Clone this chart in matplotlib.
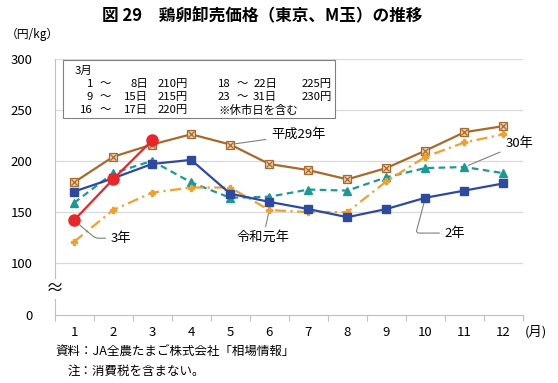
import matplotlib
matplotlib.use("Agg")
import matplotlib.pyplot as plt
from matplotlib.patches import Rectangle

plt.rcParams['font.family'] = ['Noto Sans CJK JP', 'DejaVu Sans']

months = list(range(1, 13))
h29 = [179, 204, 216, 226, 216, 197, 191, 182, 193, 210, 228, 234]
h30 = [159, 188, 200, 179, 164, 165, 172, 171, 184, 193, 194, 188]
r1 = [121, 152, 169, 174, 174, 152, 150, 150, 180, 204, 218, 226]
r2 = [170, 183, 197, 201, 168, 160, 153, 145, 153, 164, 171, 178]
r3 = [142, 182, 220]

march_from = ["1", "9", "16", "18", "23"]
march_to = ["8", "15", "17", "22", "31"]
march_price = [210, 215, 220, 225, 230]

W, H = 558, 383
Y0 = 49.5  # where the broken axis shows "0"

fig = plt.figure(figsize=(W / 100, H / 100), dpi=100)
ax = fig.add_axes([54.5 / W, 1 - 315 / H, (523 - 54.5) / W, (315 - 58.5) / H])


def px(x, y):
    return x / W, 1 - y / H


grid_c = "#d9d9d9"
for v in [100, 150, 200, 250, 300]:
    ax.axhline(v, color=grid_c, lw=0.9, zorder=0)

brown = "#a86a2c"
teal = "#1a9a96"
orange = "#f2a02c"
blue = "#2e4aa0"
red = "#e8262a"

ax.plot(months, h29, color=brown, lw=1.6, marker="s", ms=6,
        mfc="#e9d3b0", mec=brown, mew=0.9, zorder=3)
ax.plot(months, h29, ls="none", marker="x", ms=4.5, mec=brown, mew=0.9, zorder=4)
ax.plot(months, h30, color=teal, lw=1.6, ls=(0, (3, 2)), marker="^", ms=6,
        mfc=teal, mec=teal, zorder=3)
ax.plot(months, r1, color=orange, lw=1.6, ls=(0, (5, 2, 1, 2)), marker="P", ms=5,
        mfc=orange, mec=orange, zorder=3)
ax.plot(months, r2, color=blue, lw=1.6, marker="s", ms=6, mfc=blue, mec=blue, zorder=4)
ax.plot(months[:3], r3, color=red, lw=1.6, marker="o", ms=8, mfc=red, mec=red, zorder=5)

ax.set_xlim(0.5, 12.5)
ax.set_ylim(Y0, 300)

for s in ["top", "right"]:
    ax.spines[s].set_visible(False)
ax.spines["left"].set_color("#bfbfbf")
ax.spines["bottom"].set_color("#bfbfbf")

ax.set_yticks([Y0, 100, 150, 200, 250, 300])
ax.set_yticklabels(["0", "100", "150", "200", "250", "300"])
ax.tick_params(axis="y", length=0, pad=16, labelsize=9.5)

ax.set_xticks([m + 0.5 for m in range(0, 13)])
ax.set_xticklabels([])
ax.tick_params(axis="x", which="major", length=4, color="#bfbfbf", direction="out")
ax.set_xticks(months, minor=True)
ax.set_xticklabels([str(m) for m in months], minor=True)
ax.tick_params(axis="x", which="minor", length=0, pad=8, labelsize=9.5)

ax.text(0.5, 75, "≈", ha="center", va="center", fontsize=13,
        bbox=dict(fc="white", ec="none", pad=0.5), zorder=6, clip_on=False)
fig.text(*px(525, 332), "(月)", ha="left", va="center", fontsize=9.5)

fig.text(*px(262, 15), "図 29　鶏卵卸売価格（東京、M玉）の推移",
         ha="center", va="center", fontsize=12, fontweight="bold")
fig.text(*px(6, 34), "（円/kg）", ha="left", va="center", fontsize=8.5)

fig.text(*px(55, 351), "資料：JA全農たまご株式会社「相場情報」", ha="left", va="center", fontsize=9)
fig.text(*px(68, 371), "注：消費税を含まない。", ha="left", va="center", fontsize=9)

# March box
bx0, by0, bx1, by1 = 63, 60, 335, 118
fig.add_artist(Rectangle(px(bx0, by1), (bx1 - bx0) / W, (by1 - by0) / H,
                         transform=fig.transFigure, fc="white", ec="#808080", lw=0.8, zorder=5))
fs = 8.2
fig.text(*px(75, 71), "3月", ha="left", va="center", fontsize=fs, zorder=6)
rows = [84, 97, 110, 84, 97]
for i in range(5):
    y = rows[i]
    right = i >= 3
    if not right:
        fig.text(*px(93, y), march_from[i], ha="right", va="center", fontsize=fs, zorder=6)
    else:
        fig.text(*px(218, y), march_from[i], ha="left", va="center", fontsize=fs, zorder=6)
    fig.text(*px(242 if right else 105, y), "～", ha="center", va="center", fontsize=fs, zorder=6)
    fig.text(*px(277 if right else 148, y), march_to[i] + "日", ha="right", va="center",
             fontsize=fs, zorder=6)
    fig.text(*px(302 if right else 158, y), f"{march_price[i]}円", ha="left", va="center",
             fontsize=fs, zorder=6)
fig.text(*px(218, 110), "※休市日を含む", ha="left", va="center", fontsize=fs, zorder=6)

# series labels with leader lines
lc = "#808080"
lfs = 9.5
ax.annotate("平成29年", xy=(5, h29[4]), xytext=(6.05, 225.5), ha="left", va="center",
            fontsize=lfs, arrowprops=dict(arrowstyle="-", color=lc, lw=0.8, shrinkA=2, shrinkB=3))
ax.annotate("30年", xy=(11, h30[10]), xytext=(12.05, 216.5), ha="left", va="center",
            fontsize=lfs, arrowprops=dict(arrowstyle="-", color=lc, lw=0.8, shrinkA=2, shrinkB=3),
            annotation_clip=False)
ax.annotate("令和元年", xy=(6, r1[5]), xytext=(5.85, 125.5), ha="center", va="center",
            fontsize=lfs, arrowprops=dict(arrowstyle="-", color=lc, lw=0.8, shrinkA=1, shrinkB=3))
ax.annotate("3年", xy=(1, r3[0]), xytext=(1.95, 124.5), ha="left", va="center",
            fontsize=lfs, arrowprops=dict(arrowstyle="-", color=lc, lw=0.8, shrinkA=2, shrinkB=4,
                                          connectionstyle="angle,angleA=0,angleB=-40,rad=3"))
ax.annotate("2年", xy=(10, r2[9]), xytext=(10.5, 129.5), ha="left", va="center",
            fontsize=lfs, arrowprops=dict(arrowstyle="-", color=lc, lw=0.8, shrinkA=2, shrinkB=3,
                                          connectionstyle="angle,angleA=0,angleB=-105,rad=3"))

fig.savefig("out.png", dpi=100)
